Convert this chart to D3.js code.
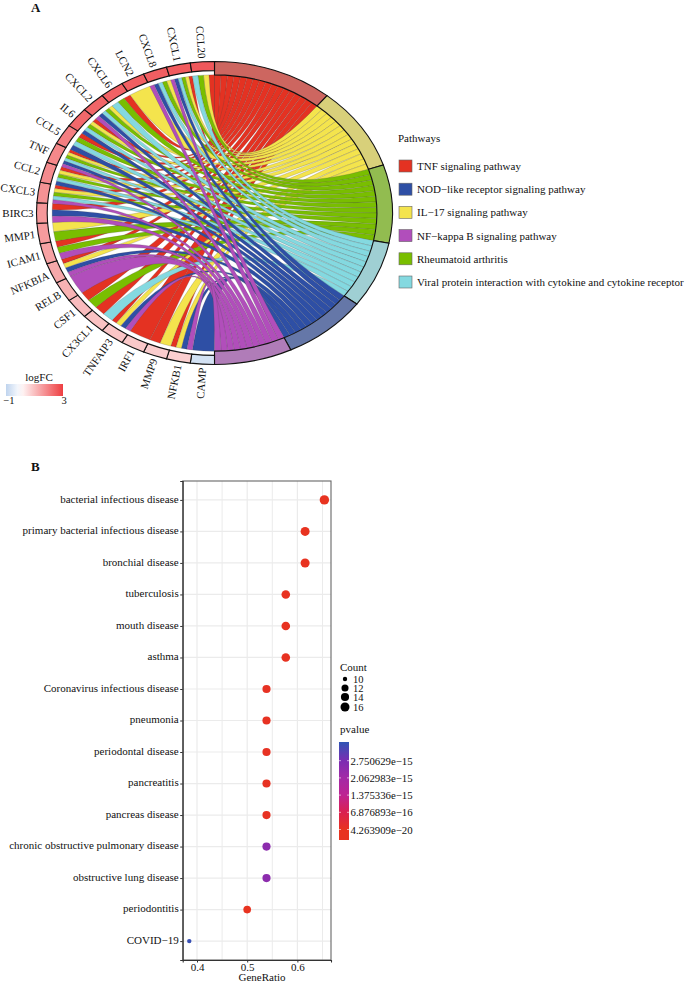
<!DOCTYPE html>
<html><head><meta charset="utf-8">
<script src="https://cdn.jsdelivr.net/npm/d3@7/dist/d3.min.js"></script>
<style>html,body{margin:0;padding:0;background:#fff}svg{display:block}text{font-family:"Liberation Serif",serif;fill:#111}</style>
</head><body><div id="c"></div>
<script>
// ---------- Panel A data ----------
const genes = ["CAMP","NFKB1","MMP9","IRF1","TNFAIP3","CX3CL1","CSF1","RELB","NFKBIA","ICAM1","MMP1","BIRC3","CXCL3","CCL2","TNF","CCL5","IL6","CXCL2","CXCL6","LCN2","CXCL8","CXCL1","CCL20"];
const logFC = [-0.7,0.75,0.8,0.85,0.9,0.95,1.05,1.2,1.35,1.45,1.55,1.6,1.7,1.8,1.85,2.0,2.35,2.4,2.45,2.5,2.5,2.55,2.6];
const pathways = ["TNF signaling pathway","IL\u221217 signaling pathway","Rheumatoid arthritis","Viral protein interaction with cytokine and cytokine receptor","NOD\u2212like receptor signaling pathway","NF\u2212kappa B signaling pathway"];
const tnfGenes = ["NFKB1","MMP9","IRF1","TNFAIP3","CX3CL1","CSF1","NFKBIA","ICAM1","BIRC3","CXCL3","CCL2","TNF","CCL5","IL6","CXCL6","CXCL1","CCL20"];
const il17Genes = ["NFKB1","MMP9","TNFAIP3","NFKBIA","MMP1","CXCL3","CCL2","TNF","IL6","CXCL2","LCN2","CXCL8","CXCL1","CCL20"];
const raGenes = ["CSF1","ICAM1","MMP1","CXCL3","CCL2","TNF","CCL5","IL6","CXCL2","CXCL6","CXCL8","CXCL1","CCL20"];
const viralGenes = ["CX3CL1","CXCL3","CCL2","TNF","CCL5","IL6","CXCL2","CXCL6","CXCL8","CXCL1","CCL20"];
const nodGenes = ["CAMP","NFKB1","TNFAIP3","NFKBIA","BIRC3","CCL2","TNF","CCL5","IL6","CXCL2","CXCL8","CXCL1"];
const nfkbGenes = ["NFKB1","TNFAIP3","RELB","NFKBIA","ICAM1","BIRC3","CXCL3","TNF","CXCL2","CXCL8","CXCL1"];
const memberLists = [tnfGenes,il17Genes,raGenes,viralGenes,nodGenes,nfkbGenes];
const ribbonColors = ["#E43222","#F4E44D","#79BE00","#84D9E0","#2E4FA5","#B14EBB"];
const termColors = ["#CD6660","#D8D07A","#92BC50","#9FCFD3","#6577A8","#B07CB8"];
const legendOrder = [0,4,1,5,2,3];
const logFCTicks = [-1,3];
// ---------- Panel B data ----------
const diseases = ["bacterial infectious disease","primary bacterial infectious disease","bronchial disease","tuberculosis","mouth disease","asthma","Coronavirus infectious disease","pneumonia","periodontal disease","pancreatitis","pancreas disease","chronic obstructive pulmonary disease","obstructive lung disease","periodontitis","COVID\u221219"];
const geneRatio = [0.6538,0.6154,0.6154,0.5769,0.5769,0.5769,0.5385,0.5385,0.5385,0.5385,0.5385,0.5385,0.5385,0.5,0.3846];
const counts = [17,16,16,15,15,15,14,14,14,14,14,14,14,13,10];
const pvals = [1e-17,1e-17,2e-17,2e-17,2e-17,3e-17,5e-17,4e-17,5e-17,4e-17,5e-17,2.45e-15,2.45e-15,1e-17,3.5e-15];
const xTicks = [0.4,0.5,0.6];
const xMinor = [0.45,0.55,0.65];
const sizeLegend = [10,12,14,16];
const pTicks = [2.750629e-15,2.062983e-15,1.375336e-15,6.876893e-16,4.263909e-20];
const pLabels = ["2.750629e\u221215","2.062983e\u221215","1.375336e\u221215","6.876893e\u221216","4.263909e\u221220"];
const pStops = [0,6.9e-16,1.375e-15,2.06e-15,2.75e-15,3.6e-15];
const pStopColors = ["#E8331F","#DA2050","#BE2392","#A32AA6","#7B2DB2","#2F55B5"];

const W=685,H=982;
const svg=d3.select("#c").append("svg").attr("width",W).attr("height",H).attr("viewBox",[0,0,W,H]);

// ---------- Panel A ----------
const cx=214.5,cy=213,ry=151.5,rx=178;
const chord=svg.append("g").attr("transform",`translate(${cx},${cy}) scale(${rx/ry},1)`);
const half=Math.PI;
const geneStep=half/genes.length;
const geneAngle=i=>half+geneStep*i;
const total=d3.sum(memberLists,l=>l.length);
const termUnit=half/total;
const rRibbon=ry*0.912;

const slot={};
genes.forEach((g,i)=>{
  const members=d3.range(pathways.length).filter(p=>memberLists[p].includes(g)).reverse();
  const w=geneStep/members.length;
  members.forEach((p,k)=>{slot[g+"|"+p]={startAngle:geneAngle(i)+k*w,endAngle:geneAngle(i)+(k+1)*w,radius:rRibbon};});
});
let acc=0;
const termArcs=[],ribbons=[];
memberLists.forEach((list,p)=>{
  const start=acc;
  const sorted=list.slice().sort((a,b)=>genes.indexOf(b)-genes.indexOf(a));
  sorted.forEach((g,k)=>{
    ribbons.push({p,source:slot[g+"|"+p],target:{startAngle:start+k*termUnit,endAngle:start+(k+1)*termUnit,radius:rRibbon}});
  });
  acc+=list.length*termUnit;
  termArcs.push({p,startAngle:start,endAngle:acc});
});
const ribbonGen=d3.ribbon();
chord.selectAll("path.rb").data(ribbons).join("path").attr("class","rb")
  .attr("d",d=>ribbonGen(d)).attr("fill",d=>ribbonColors[d.p])
  .attr("stroke","#444").attr("stroke-width",0.22).attr("vector-effect","non-scaling-stroke");
const termArc=d3.arc().innerRadius(ry*0.912).outerRadius(ry);
chord.selectAll("path.tm").data(termArcs).join("path").attr("class","tm")
  .attr("d",termArc).attr("fill",d=>termColors[d.p])
  .attr("stroke","#111").attr("stroke-width",1.1).attr("vector-effect","non-scaling-stroke");
const fcColor=d3.scaleLinear().domain([-1,0,3]).range(["#BFD4EE","#ffffff","#EE3E42"]);
const geneArc=d3.arc().innerRadius(ry*0.94).outerRadius(ry);
chord.selectAll("path.gn").data(genes).join("path").attr("class","gn")
  .attr("d",(g,i)=>geneArc({startAngle:geneAngle(i),endAngle:geneAngle(i)+geneStep}))
  .attr("fill",(g,i)=>fcColor(logFC[i]))
  .attr("stroke","#111").attr("stroke-width",1.1).attr("vector-effect","non-scaling-stroke");
svg.append("g").selectAll("text").data(genes).join("text")
  .attr("text-anchor","end").attr("dominant-baseline","central").attr("font-size",11)
  .attr("transform",(g,i)=>{
    const a=geneAngle(i)+geneStep/2;
    const x=cx+(rx+3)*Math.sin(a), y=cy-(ry+3.5)*Math.cos(a);
    return `translate(${x},${y}) rotate(${a*180/Math.PI-270})`;
  }).text(g=>g);
svg.append("text").attr("x",31).attr("y",11.5).attr("font-size",13).attr("font-weight","bold").text("A");
const defs=svg.append("defs");
const lg=defs.append("linearGradient").attr("id","fc");
d3.range(0,1.001,0.1).forEach(t=>lg.append("stop").attr("offset",t).attr("stop-color",fcColor(-1+4*t)));
const fcX=d3.scaleLinear().domain([-1,3]).range([6,63]);
svg.append("rect").attr("x",fcX(-1)).attr("y",384).attr("width",fcX(3)-fcX(-1)).attr("height",12).attr("fill","url(#fc)");
svg.append("text").attr("x",39).attr("y",381).attr("text-anchor","middle").attr("font-size",11).text("logFC");
svg.selectAll("text.fct").data(logFCTicks).join("text").attr("class","fct").attr("x",d=>fcX(d)+(d<0?3:1)).attr("y",404)
  .attr("text-anchor","middle").attr("font-size",10.5).text(d=>String(d).replace("-","\u2212"));
svg.append("text").attr("x",398).attr("y",142).attr("font-size",11).text("Pathways");
const legY=d3.scalePoint().domain(legendOrder).range([166,282]);
const lgG=svg.append("g").selectAll("g").data(legendOrder).join("g").attr("transform",d=>`translate(399,${legY(d)})`);
lgG.append("rect").attr("y",-6).attr("width",13).attr("height",12).attr("fill",d=>ribbonColors[d]).attr("stroke","#666").attr("stroke-width",0.6);
lgG.append("text").attr("x",18).attr("y",0).attr("dominant-baseline","central").attr("font-size",11).text(d=>pathways[d]);

// ---------- Panel B ----------
const L=182.7,R=331,T=481,B=960;
const x=d3.scaleLinear().domain([0.3715,0.667]).range([L,R]);
const y=d3.scalePoint().domain(diseases).range([T,B]).padding(0.6);
const r=d3.scaleSqrt().domain([0,7]).range([2.2,4.7]);
const pColor=d3.scaleLinear().domain(pStops).range(pStopColors);
svg.append("text").attr("x",31).attr("y",471).attr("font-size",13).attr("font-weight","bold").text("B");
const grid=svg.append("g").attr("stroke","#ebebeb").attr("stroke-width",1.2);
grid.selectAll("line.mn").data(xMinor).join("line").attr("class","mn").attr("x1",d=>x(d)).attr("x2",d=>x(d)).attr("y1",T).attr("y2",B).attr("stroke-width",1);
grid.selectAll("line.mj").data(xTicks).join("line").attr("class","mj").attr("x1",d=>x(d)).attr("x2",d=>x(d)).attr("y1",T).attr("y2",B);
grid.selectAll("line.h").data(diseases).join("line").attr("class","h").attr("x1",L).attr("x2",R).attr("y1",d=>y(d)).attr("y2",d=>y(d));
svg.selectAll("circle.pt").data(diseases).join("circle").attr("class","pt")
  .attr("cx",(d,i)=>x(geneRatio[i])).attr("cy",d=>y(d))
  .attr("r",(d,i)=>r(counts[i]-10)).attr("fill",(d,i)=>pColor(pvals[i]));
svg.append("rect").attr("x",L).attr("y",T).attr("width",R-L).attr("height",B-T).attr("fill","none").attr("stroke","#666").attr("stroke-width",1.1);
const ay=svg.append("g").attr("transform",`translate(${L},0)`).call(d3.axisLeft(y).tickSize(2.5).tickPadding(1.5));
ay.select(".domain").attr("stroke","#333").attr("stroke-width",1.1);
ay.selectAll("text").attr("font-size",11).attr("font-family",'"Liberation Serif",serif').attr("fill","#111").attr("y",-1.2);
ay.selectAll("line").attr("stroke","#333");
const ax=svg.append("g").attr("transform",`translate(0,${B})`).call(d3.axisBottom(x).tickValues(xTicks).tickSize(2.5).tickPadding(0.5).tickFormat(d3.format(".1f")));
ax.select(".domain").attr("stroke","#333").attr("stroke-width",1.1);
ax.selectAll("text").attr("font-size",11).attr("font-family",'"Liberation Serif",serif').attr("fill","#111");
ax.selectAll("line").attr("stroke","#333");
svg.append("text").attr("x",262).attr("y",981).attr("text-anchor","middle").attr("font-size",11).text("GeneRatio");
svg.append("text").attr("x",340).attr("y",671).attr("font-size",11).text("Count");
const cy2=d3.scaleOrdinal().domain(sizeLegend).range([679,688,697,707]);
svg.selectAll("circle.sz").data(sizeLegend).join("circle").attr("class","sz").attr("cx",345).attr("cy",d=>cy2(d)).attr("r",d=>r(d-10)).attr("fill","#000");
svg.selectAll("text.sz").data(sizeLegend).join("text").attr("class","sz").attr("x",353).attr("y",d=>cy2(d)).attr("dominant-baseline","central").attr("font-size",10.5).text(d=>d);
svg.append("text").attr("x",340).attr("y",733).attr("font-size",11).text("pvalue");
const pY=d3.scaleLinear().domain([4.263909e-20,2.750629e-15]).range([829.5,760.7]);
const barTop=742,barBot=840;
const pg=defs.append("linearGradient").attr("id","pv").attr("x1",0).attr("x2",0).attr("y1",0).attr("y2",1);
pStops.slice().reverse().forEach(s=>pg.append("stop").attr("offset",(Math.min(Math.max(pY(s),barTop),barBot)-barTop)/(barBot-barTop)).attr("stop-color",pColor(s)));
svg.append("rect").attr("x",339).attr("y",barTop).attr("width",10).attr("height",barBot-barTop).attr("fill","url(#pv)");
svg.selectAll("line.pt").data(pTicks).join("line").attr("class","pt").attr("stroke","#fff").attr("stroke-width",0.6)
  .attr("x1",339).attr("x2",341).attr("y1",d=>pY(d)).attr("y2",d=>pY(d));
svg.selectAll("line.pt2").data(pTicks).join("line").attr("class","pt2").attr("stroke","#fff").attr("stroke-width",0.6)
  .attr("x1",347).attr("x2",349).attr("y1",d=>pY(d)).attr("y2",d=>pY(d));
svg.selectAll("text.pl").data(pTicks).join("text").attr("class","pl").attr("x",350.5).attr("y",d=>pY(d)).attr("dominant-baseline","central").attr("font-size",10.8).text((d,i)=>pLabels[i]);
</script></body></html>
